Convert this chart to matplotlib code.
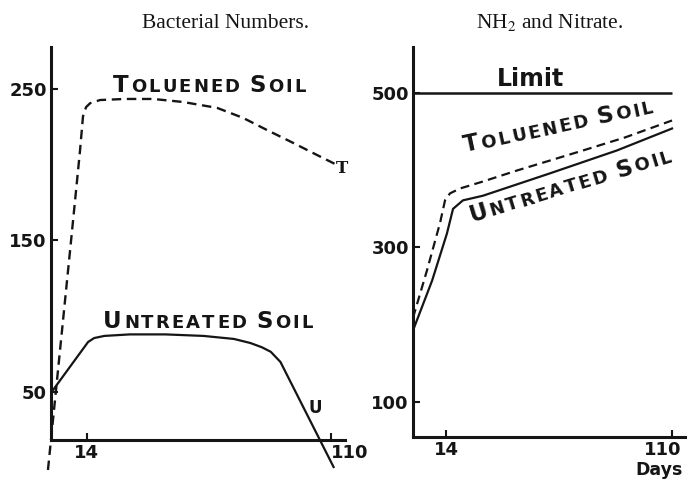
import numpy as np
import matplotlib
matplotlib.use('Agg')
import matplotlib.pyplot as plt
from matplotlib.transforms import offset_copy, ScaledTranslation

plt.rcParams['mathtext.fontset'] = 'stix'
plt.rcParams['font.family'] = ['DejaVu Sans']

INK = '#151515'

# Bacterial numbers (left panel)
tol_days = [-1.2, 7.9, 11.4, 12.6, 13.8, 15.4, 19.3, 29, 40.2, 52, 65.4, 75.6, 85, 95.3, 104.7, 112.6]
tol_vals = [-1.5, 150, 209, 232, 238, 240.6, 242.7, 243.4, 243.4, 241.4, 237.5, 230.9, 222.9, 214.4, 206.4, 199.8]
unt_days = [0.8, 14.6, 17, 21, 31, 45, 60, 72, 78.5, 83, 86.5, 90.3, 111.2]
unt_vals = [51.3, 83, 85.6, 87, 88, 88, 87, 85, 82.3, 79.5, 76.5, 69.8, 0.5]

# NH3 and nitrate (right panel)
r_tol_days = [0, 5.9, 11.5, 13.6, 15.7, 20, 29.7, 44.2, 58.2, 72.2, 90, 110]
r_tol_vals = [209, 270, 332, 361, 370, 376.4, 385.4, 399.7, 412.6, 425.6, 442.4, 464.4]
r_unt_days = [0, 8.1, 14.4, 17, 21.2, 29.7, 58.2, 86.6, 110]
r_unt_vals = [192.6, 257, 318, 350, 361, 367, 396, 425.6, 454]
limit_value = 500
limit_span = [0, 110]

x_ticks = [14, 110]
left_yticks = [50, 150, 250]
right_yticks = [100, 300, 500]


def caps_label(ax, x, y, text, angle=0, big=16.5, small=13, track=1.6, space=5.5):
    # hand-made small caps: first letter of each word larger
    fig = ax.figure
    renderer = fig.canvas.get_renderer()
    ang = np.deg2rad(angle)
    adv = 0.0
    for word in text.split():
        for i, ch in enumerate(word):
            size = big if i == 0 else small
            tr = offset_copy(ax.transData, fig=fig, x=adv * np.cos(ang),
                             y=adv * np.sin(ang), units='points')
            t = ax.text(x, y, ch, transform=tr, fontsize=size, fontweight='bold',
                        rotation=angle, rotation_mode='anchor', ha='left',
                        va='baseline', color=INK, clip_on=False)
            w, _, _ = renderer.get_text_width_height_descent(ch, t.get_fontproperties(), ismath=False)
            adv += w * 72 / fig.dpi + track
        adv += space


def style_axes(ax, yticks):
    for s in ['top', 'right']:
        ax.spines[s].set_visible(False)
    for s in ['left', 'bottom']:
        ax.spines[s].set_linewidth(2.2)
        ax.spines[s].set_color(INK)
    ax.set_xticks(x_ticks)
    ax.set_yticks(yticks)
    ax.tick_params(direction='in', length=5, width=1.5, color=INK,
                   labelsize=13, pad=3, labelcolor=INK)
    for lab in ax.get_xticklabels() + ax.get_yticklabels():
        lab.set_fontweight('bold')
    ax.patch.set_alpha(0)


fig = plt.figure(figsize=(6.91, 4.82), dpi=100)

# left panel
ax1 = fig.add_axes([51 / 691, 42 / 482, 294 / 691, 393 / 482])
ax1.set_xlim(0, 115.7)
ax1.set_ylim(18.3, 277.7)
style_axes(ax1, left_yticks)
ax1.plot(tol_days, tol_vals, color=INK, lw=1.7, ls=(0, (4, 2.4)), clip_on=False)
ax1.plot(unt_days, unt_vals, color=INK, lw=1.6, clip_on=False)
ax1.get_xticklabels()[1].set_ha('left')
caps_label(ax1, 24.4, 248, 'TOLUENED SOIL')
caps_label(ax1, 20.5, 92.2, 'UNTREATED SOIL')
ax1.text(112.2, 194.6, 'T', family='DejaVu Serif', fontweight='bold', fontsize=12,
         va='baseline', color=INK, clip_on=False)
ax1.text(101.2, 36.1, 'U', fontweight='bold', fontsize=12, va='baseline', color=INK)

# right panel
ax2 = fig.add_axes([413 / 691, 45 / 482, 272 / 691, 390 / 482])
ax2.set_xlim(0, 115.5)
ax2.set_ylim(54.7, 559.5)
style_axes(ax2, right_yticks)
lab110 = ax2.get_xticklabels()[1]
lab110.set_transform(lab110.get_transform() + ScaledTranslation(-7 / 72, 0, fig.dpi_scale_trans))
ax2.hlines(limit_value, limit_span[0], limit_span[1], color=INK, lw=1.8)
ax2.plot(r_tol_days, r_tol_vals, color=INK, lw=1.6, ls=(0, (4, 2.4)))
ax2.plot(r_unt_days, r_unt_vals, color=INK, lw=1.6)
ax2.text(35.7, 509, 'Limit', fontsize=17, fontweight='bold', va='baseline', color=INK)
caps_label(ax2, 22.1, 423, 'TOLUENED SOIL', angle=12)
caps_label(ax2, 25, 332.4, 'UNTREATED SOIL', angle=17)

# titles and units
fig.text(226 / 691, 1 - 28 / 482, 'Bacterial Numbers.', family='Liberation Serif',
         fontsize=15.5, ha='center', va='baseline', color=INK)
fig.text(550 / 691, 1 - 28 / 482, 'NH$_2$ and Nitrate.', family='Liberation Serif',
         fontsize=15.5, ha='center', va='baseline', color=INK)
fig.text(659 / 691, 1 - 461 / 482, 'Days', fontsize=12.5, fontweight='bold',
         ha='center', va='top', color=INK)

fig.savefig('out.png', dpi=100, facecolor='white')
